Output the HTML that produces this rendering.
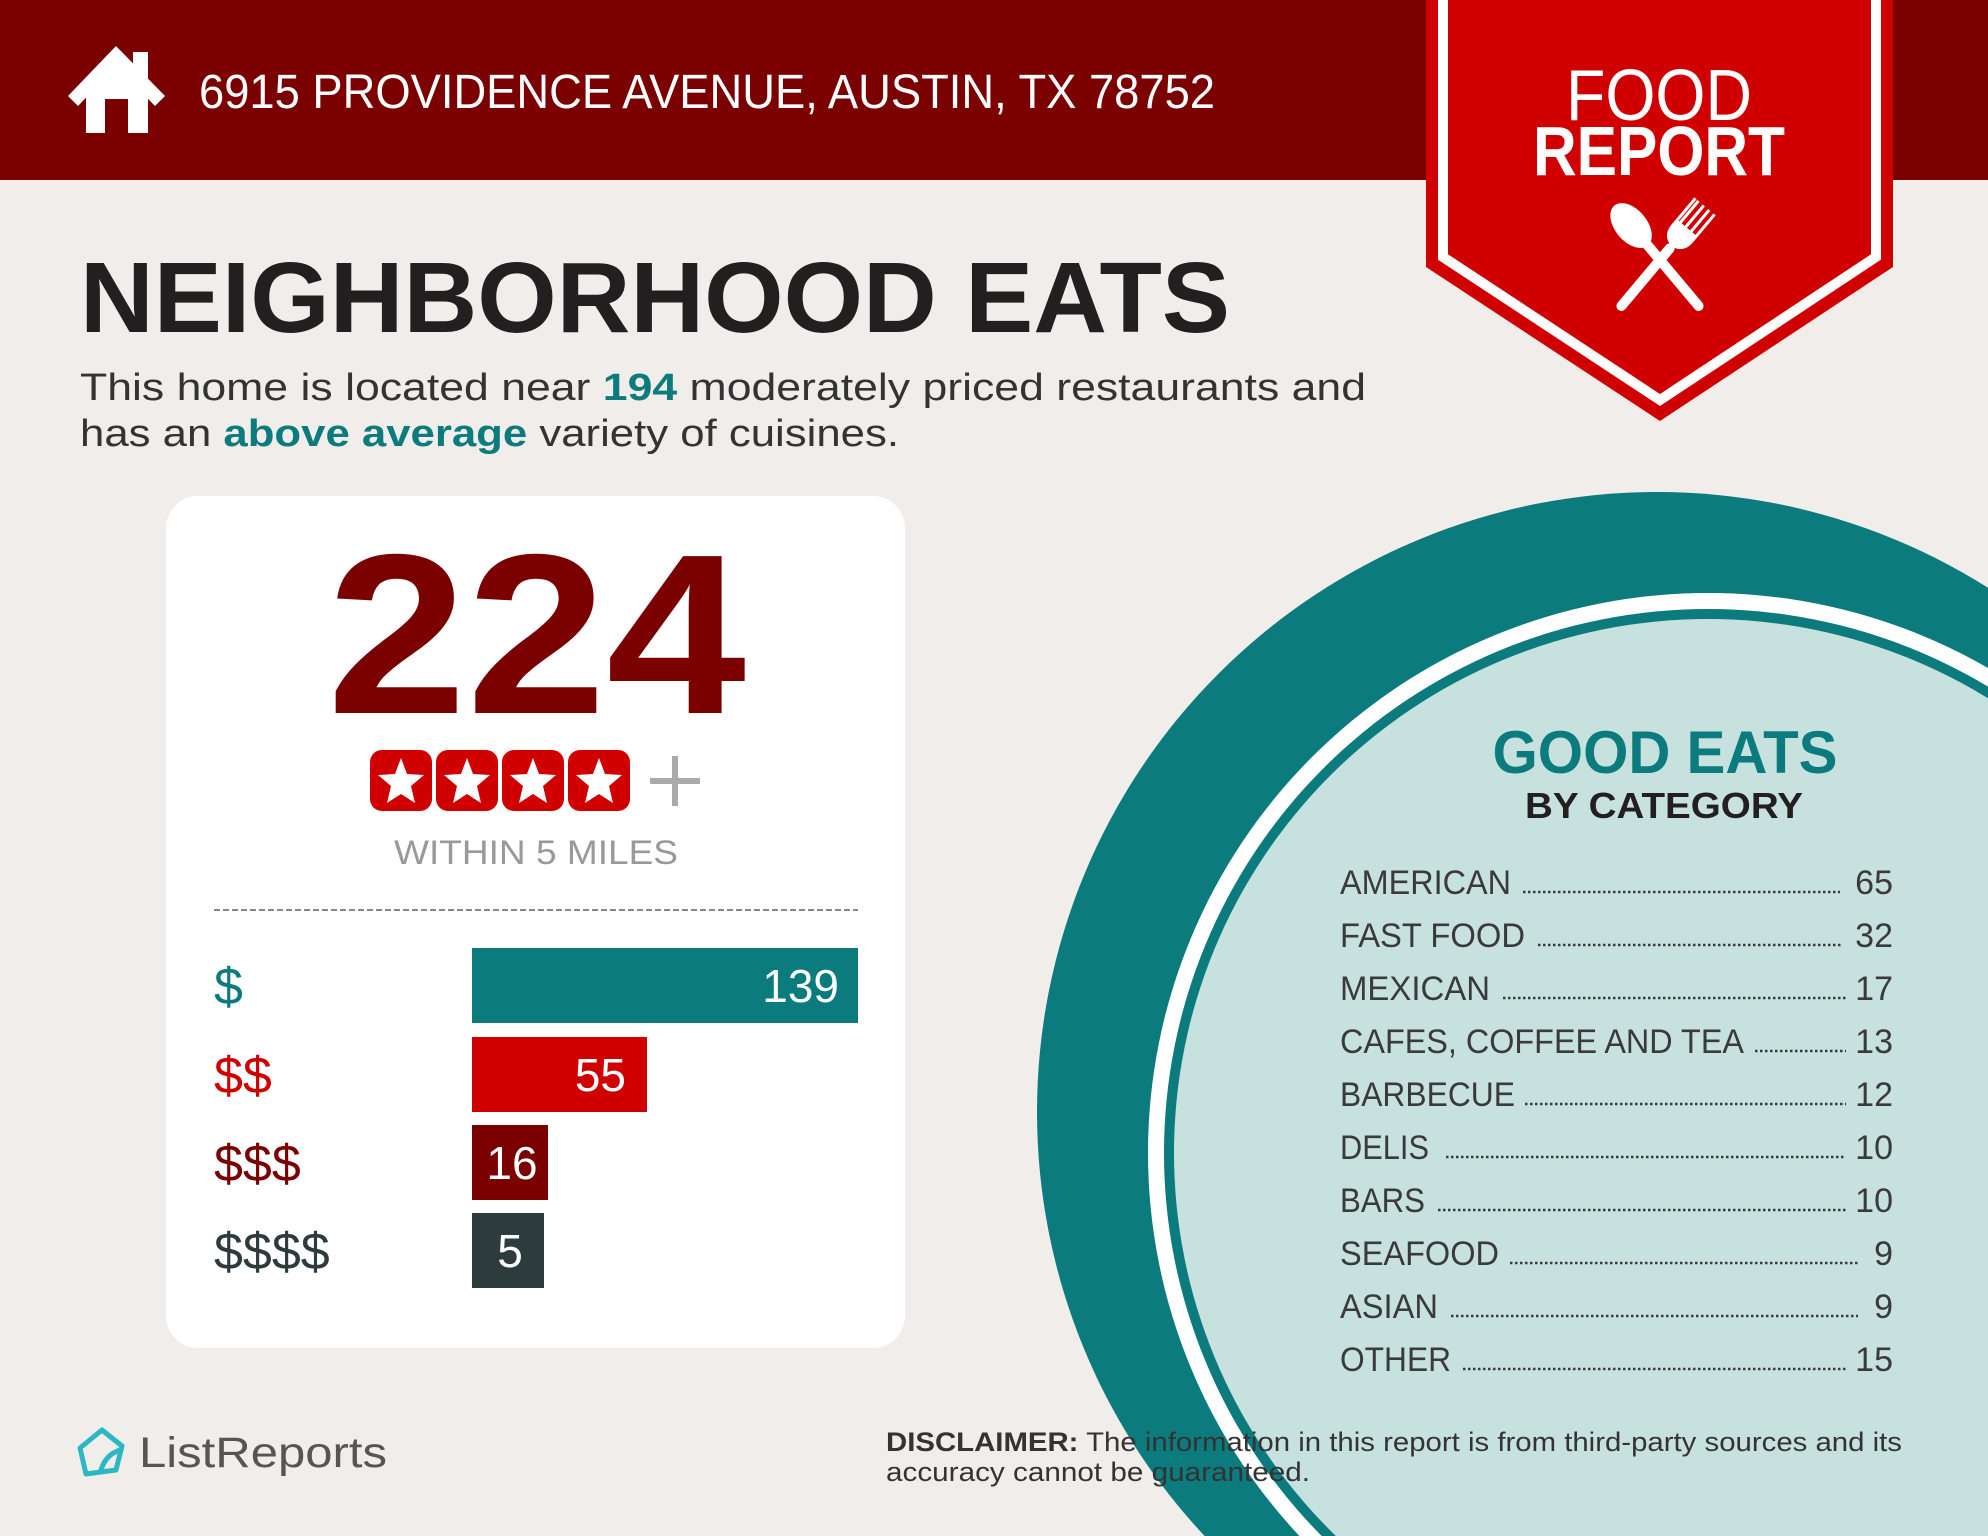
<!DOCTYPE html>
<html><head><meta charset="utf-8"><style>html,body{margin:0;padding:0;background:#f1edea;width:1988px;height:1536px;overflow:hidden}svg{display:block}</style></head>
<body>
<svg width="1988" height="1536" viewBox="0 0 1988 1536" xmlns="http://www.w3.org/2000/svg" font-family="'Liberation Sans', sans-serif">
<rect width="1988" height="1536" fill="#f1edea"/>
<!-- header -->
<rect width="1988" height="180" fill="#7b0000"/>
<!-- house -->
<g fill="#fff">
<polygon points="68,96 116,46 165,96 155,106 116,66 78,106"/>
<rect x="133" y="52" width="15" height="28"/>
<path d="M86,86 L116,58 L148,86 L148,133 L128,133 L128,99 L105,99 L105,133 L86,133 Z"/>
</g>
<text x="199" y="108" font-size="48" fill="#fff" textLength="1016" lengthAdjust="spacingAndGlyphs">6915 PROVIDENCE AVENUE, AUSTIN, TX 78752</text>
<!-- ribbon -->
<polygon points="1426,0 1893,0 1893,267 1660,421 1426,267" fill="#d10000"/>
<polyline points="1443,0 1443,257 1660,400 1876,257 1876,0" fill="none" stroke="#fff" stroke-width="10"/>
<text x="1659" y="120" font-size="72" fill="#fff" text-anchor="middle" textLength="186" lengthAdjust="spacingAndGlyphs">FOOD</text>
<text x="1659" y="175" font-size="70" font-weight="bold" fill="#fff" text-anchor="middle" textLength="252" lengthAdjust="spacingAndGlyphs">REPORT</text>
<!-- spoon & fork -->
<g fill="#fff">
<g transform="translate(1660,260) rotate(-40)">
<ellipse cx="0" cy="-45" rx="16" ry="26"/>
<rect x="-5" y="-25" width="10" height="90" rx="5"/>
</g>
<g transform="translate(1660,260) rotate(40)">
<rect x="-5" y="-20" width="10" height="85" rx="5"/>
<path d="M-14,-70 L-14,-35 Q-14,-20 0,-18 Q14,-20 14,-35 L14,-70 L11,-70 L11,-42 L7,-42 L7,-70 L4,-70 L4,-42 L0,-42 L0,-70 L-3,-70 L-3,-42 L-7,-42 L-7,-70 L-10,-70 L-10,-42 L-11,-42 L-11,-70 Z"/>
</g>
</g>
<!-- title -->
<text x="80" y="332" font-size="100" font-weight="bold" fill="#231f20" textLength="1150" lengthAdjust="spacingAndGlyphs">NEIGHBORHOOD EATS</text>
<text x="80" y="400" font-size="38" fill="#333" textLength="1286" lengthAdjust="spacingAndGlyphs">This home is located near <tspan font-weight="bold" fill="#0b7b7e">194</tspan> moderately priced restaurants and</text>
<text x="80" y="446" font-size="38" fill="#333" textLength="819" lengthAdjust="spacingAndGlyphs">has an <tspan font-weight="bold" fill="#0b7b7e">above average</tspan> variety of cuisines.</text>
<!-- circle -->
<circle cx="1657" cy="1112" r="620" fill="#0b7b7e"/>
<circle cx="1708" cy="1153" r="560" fill="#fff"/>
<circle cx="1708" cy="1153" r="544" fill="#0b7b7e"/>
<circle cx="1708" cy="1153" r="534" fill="#c7e1df"/>
<text x="1665" y="773" font-size="60" font-weight="bold" fill="#0b7b7e" text-anchor="middle" textLength="345" lengthAdjust="spacingAndGlyphs">GOOD EATS</text>
<text x="1664" y="818" font-size="36" font-weight="bold" fill="#231f20" text-anchor="middle" textLength="278" lengthAdjust="spacingAndGlyphs">BY CATEGORY</text>
<g font-size="34" fill="#3a3a3a">
<text x="1340" y="894" textLength="171" lengthAdjust="spacingAndGlyphs">AMERICAN</text>
<text x="1340" y="947" textLength="185" lengthAdjust="spacingAndGlyphs">FAST FOOD</text>
<text x="1340" y="1000" textLength="150" lengthAdjust="spacingAndGlyphs">MEXICAN</text>
<text x="1340" y="1053" textLength="404" lengthAdjust="spacingAndGlyphs">CAFES, COFFEE AND TEA</text>
<text x="1340" y="1106" textLength="175" lengthAdjust="spacingAndGlyphs">BARBECUE</text>
<text x="1340" y="1159" textLength="89" lengthAdjust="spacingAndGlyphs">DELIS</text>
<text x="1340" y="1212" textLength="85" lengthAdjust="spacingAndGlyphs">BARS</text>
<text x="1340" y="1265" textLength="159" lengthAdjust="spacingAndGlyphs">SEAFOOD</text>
<text x="1340" y="1318" textLength="98" lengthAdjust="spacingAndGlyphs">ASIAN</text>
<text x="1340" y="1371" textLength="111" lengthAdjust="spacingAndGlyphs">OTHER</text>
</g>
<g font-size="34" fill="#3a3a3a" text-anchor="end">
<text x="1893" y="894">65</text><text x="1893" y="947">32</text><text x="1893" y="1000">17</text><text x="1893" y="1053">13</text><text x="1893" y="1106">12</text><text x="1893" y="1159">10</text><text x="1893" y="1212">10</text><text x="1893" y="1265">9</text><text x="1893" y="1318">9</text><text x="1893" y="1371">15</text>
</g>
<g stroke="#3a3a3a" stroke-width="2.5" stroke-dasharray="2.5 2.5">
<line x1="1523" y1="892" x2="1840" y2="892"/>
<line x1="1538" y1="945" x2="1843" y2="945"/>
<line x1="1503" y1="998" x2="1846" y2="998"/>
<line x1="1755" y1="1051" x2="1846" y2="1051"/>
<line x1="1525" y1="1104" x2="1846" y2="1104"/>
<line x1="1446" y1="1157" x2="1846" y2="1157"/>
<line x1="1438" y1="1210" x2="1846" y2="1210"/>
<line x1="1510" y1="1263" x2="1858" y2="1263"/>
<line x1="1451" y1="1316" x2="1858" y2="1316"/>
<line x1="1463" y1="1369" x2="1846" y2="1369"/>
</g>
<!-- card -->
<rect x="166" y="496" width="739" height="852" rx="32" fill="#fff"/>
<text x="327" y="713" font-size="228" font-weight="bold" fill="#7b0000" textLength="419" lengthAdjust="spacingAndGlyphs">224</text>
<g>
<rect x="370" y="750" width="62" height="61" rx="12" fill="#d10000"/>
<rect x="436" y="750" width="62" height="61" rx="12" fill="#d10000"/>
<rect x="502" y="750" width="62" height="61" rx="12" fill="#d10000"/>
<rect x="568" y="750" width="62" height="61" rx="12" fill="#d10000"/>
<g fill="#fff">
<polygon transform="translate(401,782)" points="0,-24 6,-8 23,-7 10,4 14,21 0,12 -14,21 -10,4 -23,-7 -6,-8"/>
<polygon transform="translate(467,782)" points="0,-24 6,-8 23,-7 10,4 14,21 0,12 -14,21 -10,4 -23,-7 -6,-8"/>
<polygon transform="translate(533,782)" points="0,-24 6,-8 23,-7 10,4 14,21 0,12 -14,21 -10,4 -23,-7 -6,-8"/>
<polygon transform="translate(599,782)" points="0,-24 6,-8 23,-7 10,4 14,21 0,12 -14,21 -10,4 -23,-7 -6,-8"/>
</g>
<rect x="650" y="778" width="50" height="6" fill="#aaa"/>
<rect x="672" y="756" width="6" height="50" fill="#aaa"/>
</g>
<text x="536" y="864" font-size="34" fill="#999" text-anchor="middle" textLength="284" lengthAdjust="spacingAndGlyphs">WITHIN 5 MILES</text>
<line x1="214" y1="910" x2="858" y2="910" stroke="#888" stroke-width="2" stroke-dasharray="6 3"/>
<rect x="472" y="948" width="386" height="75" fill="#0b7b7e"/>
<rect x="472" y="1037" width="175" height="75" fill="#d10000"/>
<rect x="472" y="1125" width="76" height="75" fill="#7b0000"/>
<rect x="472" y="1213" width="72" height="75" fill="#2d3b3d"/>
<g font-size="52">
<text x="214" y="1004" fill="#0b7b7e">$</text>
<text x="214" y="1093" fill="#d10000">$$</text>
<text x="214" y="1181" fill="#7b0000">$$$</text>
<text x="214" y="1269" fill="#2d3b3d">$$$$</text>
</g>
<g font-size="46" fill="#fff">
<text x="839" y="1002" text-anchor="end">139</text>
<text x="626" y="1091" text-anchor="end">55</text>
<text x="512" y="1179" text-anchor="middle">16</text>
<text x="510" y="1267" text-anchor="middle">5</text>
</g>
<!-- logo -->
<path d="M80,1448 L102,1430 L122,1446 L116,1470 L86,1474 Z" fill="none" stroke="#2bb8c4" stroke-width="5" stroke-linejoin="round"/>
<path d="M100,1474 Q104,1455 120,1450" fill="none" stroke="#2bb8c4" stroke-width="5"/>
<text x="139" y="1467" font-size="43" fill="#555" textLength="248" lengthAdjust="spacingAndGlyphs">ListReports</text>
<!-- disclaimer -->
<text x="886" y="1451" font-size="27" fill="#333" textLength="1016" lengthAdjust="spacingAndGlyphs"><tspan font-weight="bold">DISCLAIMER:</tspan> The information in this report is from third-party sources and its</text>
<text x="886" y="1481" font-size="27" fill="#333" textLength="424" lengthAdjust="spacingAndGlyphs">accuracy cannot be guaranteed.</text>
</svg>
</body></html>
